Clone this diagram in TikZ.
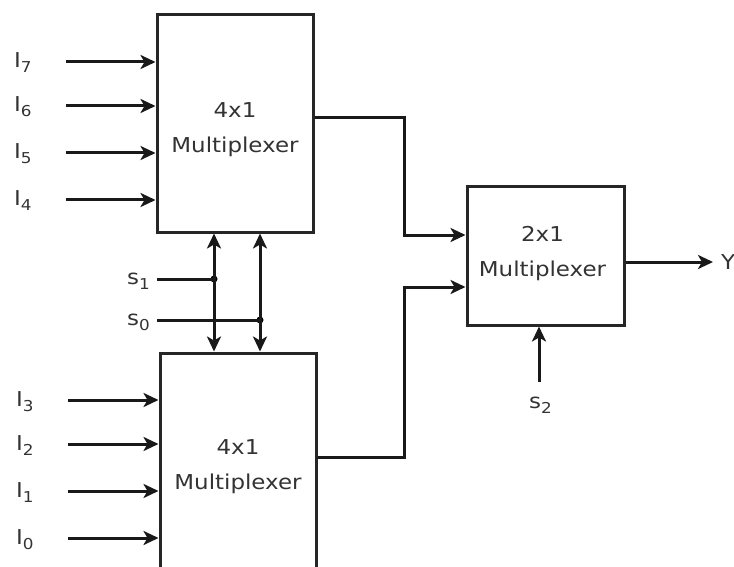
\documentclass[tikz,border=0pt]{standalone}
\usepackage{fontspec}
\setmainfont{DejaVu Sans}[FakeStretch=1.12]
\usetikzlibrary{arrows.meta}
\newcommand\sbs[1]{\raisebox{-5pt}{\fontsize{15}{15}\selectfont #1}}
\begin{document}
\begin{tikzpicture}[x=1pt,y=-1pt,
  box/.style={draw=black!85, line width=3pt, inner sep=0pt},
  boxtext/.style={align=center, font=\fontsize{20.5}{35}\selectfont, text=black!80, inner sep=0pt},
  wire/.style={line width=3pt, draw=black!90},
  arr/.style={wire, -{Stealth[length=15pt,width=14pt,inset=4pt]}},
  darr/.style={wire, {Stealth[length=15pt,width=14pt,inset=4pt]}-{Stealth[length=15pt,width=14pt,inset=4pt]}},
  lbl/.style={font=\fontsize{20.5}{20}\selectfont, text=black!80, inner sep=0pt, anchor=base west},
  dot/.style={circle, fill=black, inner sep=0pt, minimum size=7pt}]
\useasboundingbox (0,0) rectangle (734,567);
\clip (0,0) rectangle (734,567);
% multiplexers
\node[box, minimum width=156, minimum height=217] (m1) at (235,123.5) {};
\node[box, minimum width=156, minimum height=232] (m2) at (238,469) {};
\node[box, minimum width=157, minimum height=138] (m3) at (545.5,256) {};
\node[boxtext] (t1) at (m1.center) [yshift=-6pt] {4x1\\Multiplexer};
\node[boxtext] (t2) at (m2.center) [yshift=2pt] {4x1\\Multiplexer};
\node[boxtext] (t3) at (m3.center) [xshift=-3pt,yshift=2pt] {2x1\\Multiplexer};
% inputs of top mux
\foreach \n/\y in {7/62,6/106,5/153,4/200}{
  \node[lbl] (l\n) at (14,\y+6) {I\sbs{\n}};
  \coordinate (c\n) at (66,\y);
  \draw[arr] (c\n) -- (c\n -| m1.west);
}
% inputs of bottom mux
\foreach \n/\y in {3/400,2/444,1/491,0/538}{
  \node[lbl] (l\n) at (16,\y+6) {I\sbs{\n}};
  \coordinate (c\n) at (68,\y);
  \draw[arr] (c\n) -- (c\n -| m2.west);
}
% select lines
\node[lbl] (ls1) at (127,284) {s\sbs{1}};
\node[lbl] (ls0) at (127,325) {s\sbs{0}};
\coordinate (s1s) at (157,279);
\coordinate (s0s) at (157,320);
\node[dot] (d1) at (214,279) {};
\node[dot] (d0) at (260,320) {};
\draw[wire] (s1s) -- (d1.center);
\draw[wire] (s0s) -- (d0.center);
\draw[darr] (d1 |- m1.south) -- (d1 |- m2.north);
\draw[darr] (d0 |- m1.south) -- (d0 |- m2.north);
% outputs to 2x1
\coordinate (j1) at (404,118);
\coordinate (j2) at (404,457);
\draw[arr] (m1.east |- j1) -- (j1) |- ([yshift=21pt]m3.west);
\draw[arr] (m2.east |- j2) -- (j2) |- ([yshift=-31pt]m3.west);
% s2
\coordinate (s2c) at (539,382);
\node[lbl] (ls2) at (529,408) {s\sbs{2}};
\draw[arr] (s2c) -- (s2c |- m3.south);
% output Y
\coordinate (ye) at (713,262);
\node[lbl] (lY) at (721,269) {Y};
\draw[arr] (m3.east |- ye) -- (ye);
\end{tikzpicture}
\end{document}
